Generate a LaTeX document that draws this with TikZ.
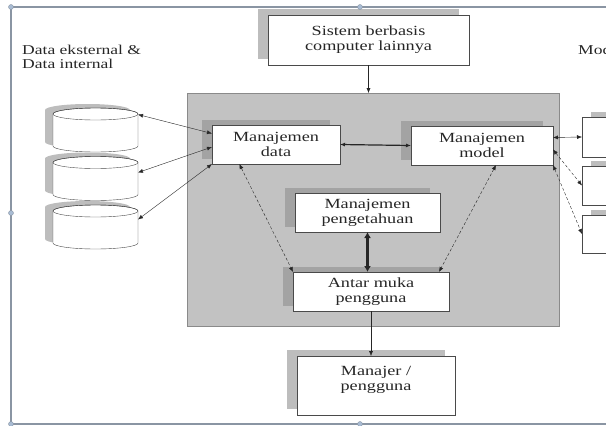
\documentclass[tikz,border=0pt]{standalone}
\usepackage{fontspec}
\setmainfont{Liberation Serif}
\newfontfamily\boxfont{Liberation Serif}[FakeStretch=1.3]
\usepackage{tikz}
\usetikzlibrary{shapes,arrows,arrows.meta,positioning,calc,shadows}
\definecolor{dssgray}{HTML}{C2C2C2}
\definecolor{dssline}{HTML}{8A8A8A}
\definecolor{inshade}{HTML}{A3A3A3}
\definecolor{outshade}{HTML}{BDBDBD}
\definecolor{boxline}{HTML}{4A4A4A}
\definecolor{txt}{HTML}{262626}
\definecolor{framec}{HTML}{8A95A3}
\definecolor{handle}{HTML}{A9BCD4}

\begin{document}
\begin{tikzpicture}[x=1pt,y=-1pt,>={Latex[length=5pt,width=4pt]},
  box/.style={draw=boxline,fill=white,inner sep=0pt,outer sep=0pt,align=center,
    font=\boxfont\fontsize{14}{15}\selectfont,text=txt},
  inshadow/.style={drop shadow={shadow xshift=-10pt,shadow yshift=5pt,fill=inshade,opacity=1}},
  outshadow/.style={drop shadow={shadow xshift=-10pt,shadow yshift=6pt,fill=outshade,opacity=1}},
  rshadow/.style={drop shadow={shadow xshift=9pt,shadow yshift=5pt,fill=outshade,opacity=1}},
  link/.style={<->,draw=txt,thin}]
\useasboundingbox (0,0) rectangle (606,426);
\clip (0,0) rectangle (606,426);
% frame of the page
\draw[framec,line width=1.2pt] (606,7) -- (11,7) -- (11,424) -- (606,424);
% labels
\node[anchor=west,align=left,inner sep=0pt,text=txt,font=\boxfont\fontsize{13.5}{14}\selectfont] (dlabel) at (22,57) {Data eksternal \&\\Data internal};
\node[anchor=west,inner sep=0pt,text=txt,font=\boxfont\fontsize{13.5}{14}\selectfont] (mlabel) at (578,50) {Model};
% boxes
\node[box,outshadow,minimum width=201pt,minimum height=50pt] (sistem) at (368.5,40) {Sistem berbasis\\computer lainnya};
\node[draw=dssline,fill=dssgray,minimum width=372pt,minimum height=233pt,inner sep=0pt,outer sep=0pt] (dss) at (373,209.5) {};
\node[box,inshadow,minimum width=128pt,minimum height=39pt] (data) at (276,144.5) {Manajemen\\data};
\node[box,inshadow,minimum width=142pt,minimum height=39pt] (model) at (482,145.5) {Manajemen\\model};
\node[box,inshadow,minimum width=145pt,minimum height=39pt] (peng) at (367.5,212.5) {Manajemen\\pengetahuan};
\node[box,inshadow,minimum width=156pt,minimum height=39pt] (antar) at (371,291.5) {Antar muka\\pengguna};
\node[box,outshadow,minimum width=158pt,minimum height=59pt] (manajer) at (376,385.5) {Manajer /\\pengguna\\\mbox{}};
% databases
\foreach \n/\y in {1/130,2/178.5,3/227}{
  \node[minimum width=85pt,minimum height=44pt,inner sep=0pt,outer sep=0pt] (db\n) at (95.5,\y) {};
  \fill[outshade] ([xshift=-8pt,yshift=4pt]db\n.west) ++(0,-16) -- ++(0,32)
    arc[start angle=180,end angle=360,x radius=42.5pt,y radius=6pt] -- ++(0,-32)
    arc[start angle=0,end angle=180,x radius=42.5pt,y radius=6pt] -- cycle;
  \filldraw[fill=white,draw=boxline] (db\n.west) ++(0,-16) -- ++(0,32)
    arc[start angle=180,end angle=360,x radius=42.5pt,y radius=6pt] -- ++(0,-32)
    arc[start angle=0,end angle=180,x radius=42.5pt,y radius=6pt] -- cycle;
  \draw[boxline] (db\n.center) ++(0,-16) ellipse[x radius=42.5pt,y radius=6pt];
}
% model boxes on the right
\node[box,rshadow,minimum width=80pt,minimum height=40pt] (mod1) at (622,137) {};
\node[box,rshadow,minimum width=80pt,minimum height=39pt] (mod2) at (622,185.5) {};
\node[box,rshadow,minimum width=80pt,minimum height=38pt] (mod3) at (622,234) {};
% connectors
\draw[->,draw=txt] (sistem.south) -- (sistem.south |- dss.north);
\draw[->,draw=txt] (antar.south) -- (antar.south |- manajer.north);
\draw[draw=txt,line width=2.2pt,{Latex[length=6pt,width=7pt]}-{Latex[length=6pt,width=7pt]}] (peng.south) -- (peng.south |- antar.north);
\draw[link,line width=1.2pt] (data.east) -- (model.west);
\draw[link,densely dashed] (data.208) -- (antar.north west);
\draw[link,densely dashed] ([xshift=14pt]model.south) -- ([xshift=-10pt]antar.north east);
\draw[link] (db1.20) -- ([yshift=11pt]data.west);
\draw[link] (db2.8) -- ([yshift=-2.5pt]data.west);
\draw[link] (db3.10) -- (data.south west);
\draw[link] ([yshift=8pt]model.east) -- (mod1.west);
\draw[link,densely dashed] ([yshift=-4pt]model.east) -- (mod2.west);
\draw[link,densely dashed] (model.south east) -- (mod3.west);
% selection handles
\foreach \p in {(11,7),(11,213),(11,424),(360,7),(360,424)}
  \filldraw[fill=handle,draw=framec] \p circle (2.5pt);
\end{tikzpicture}
\end{document}
